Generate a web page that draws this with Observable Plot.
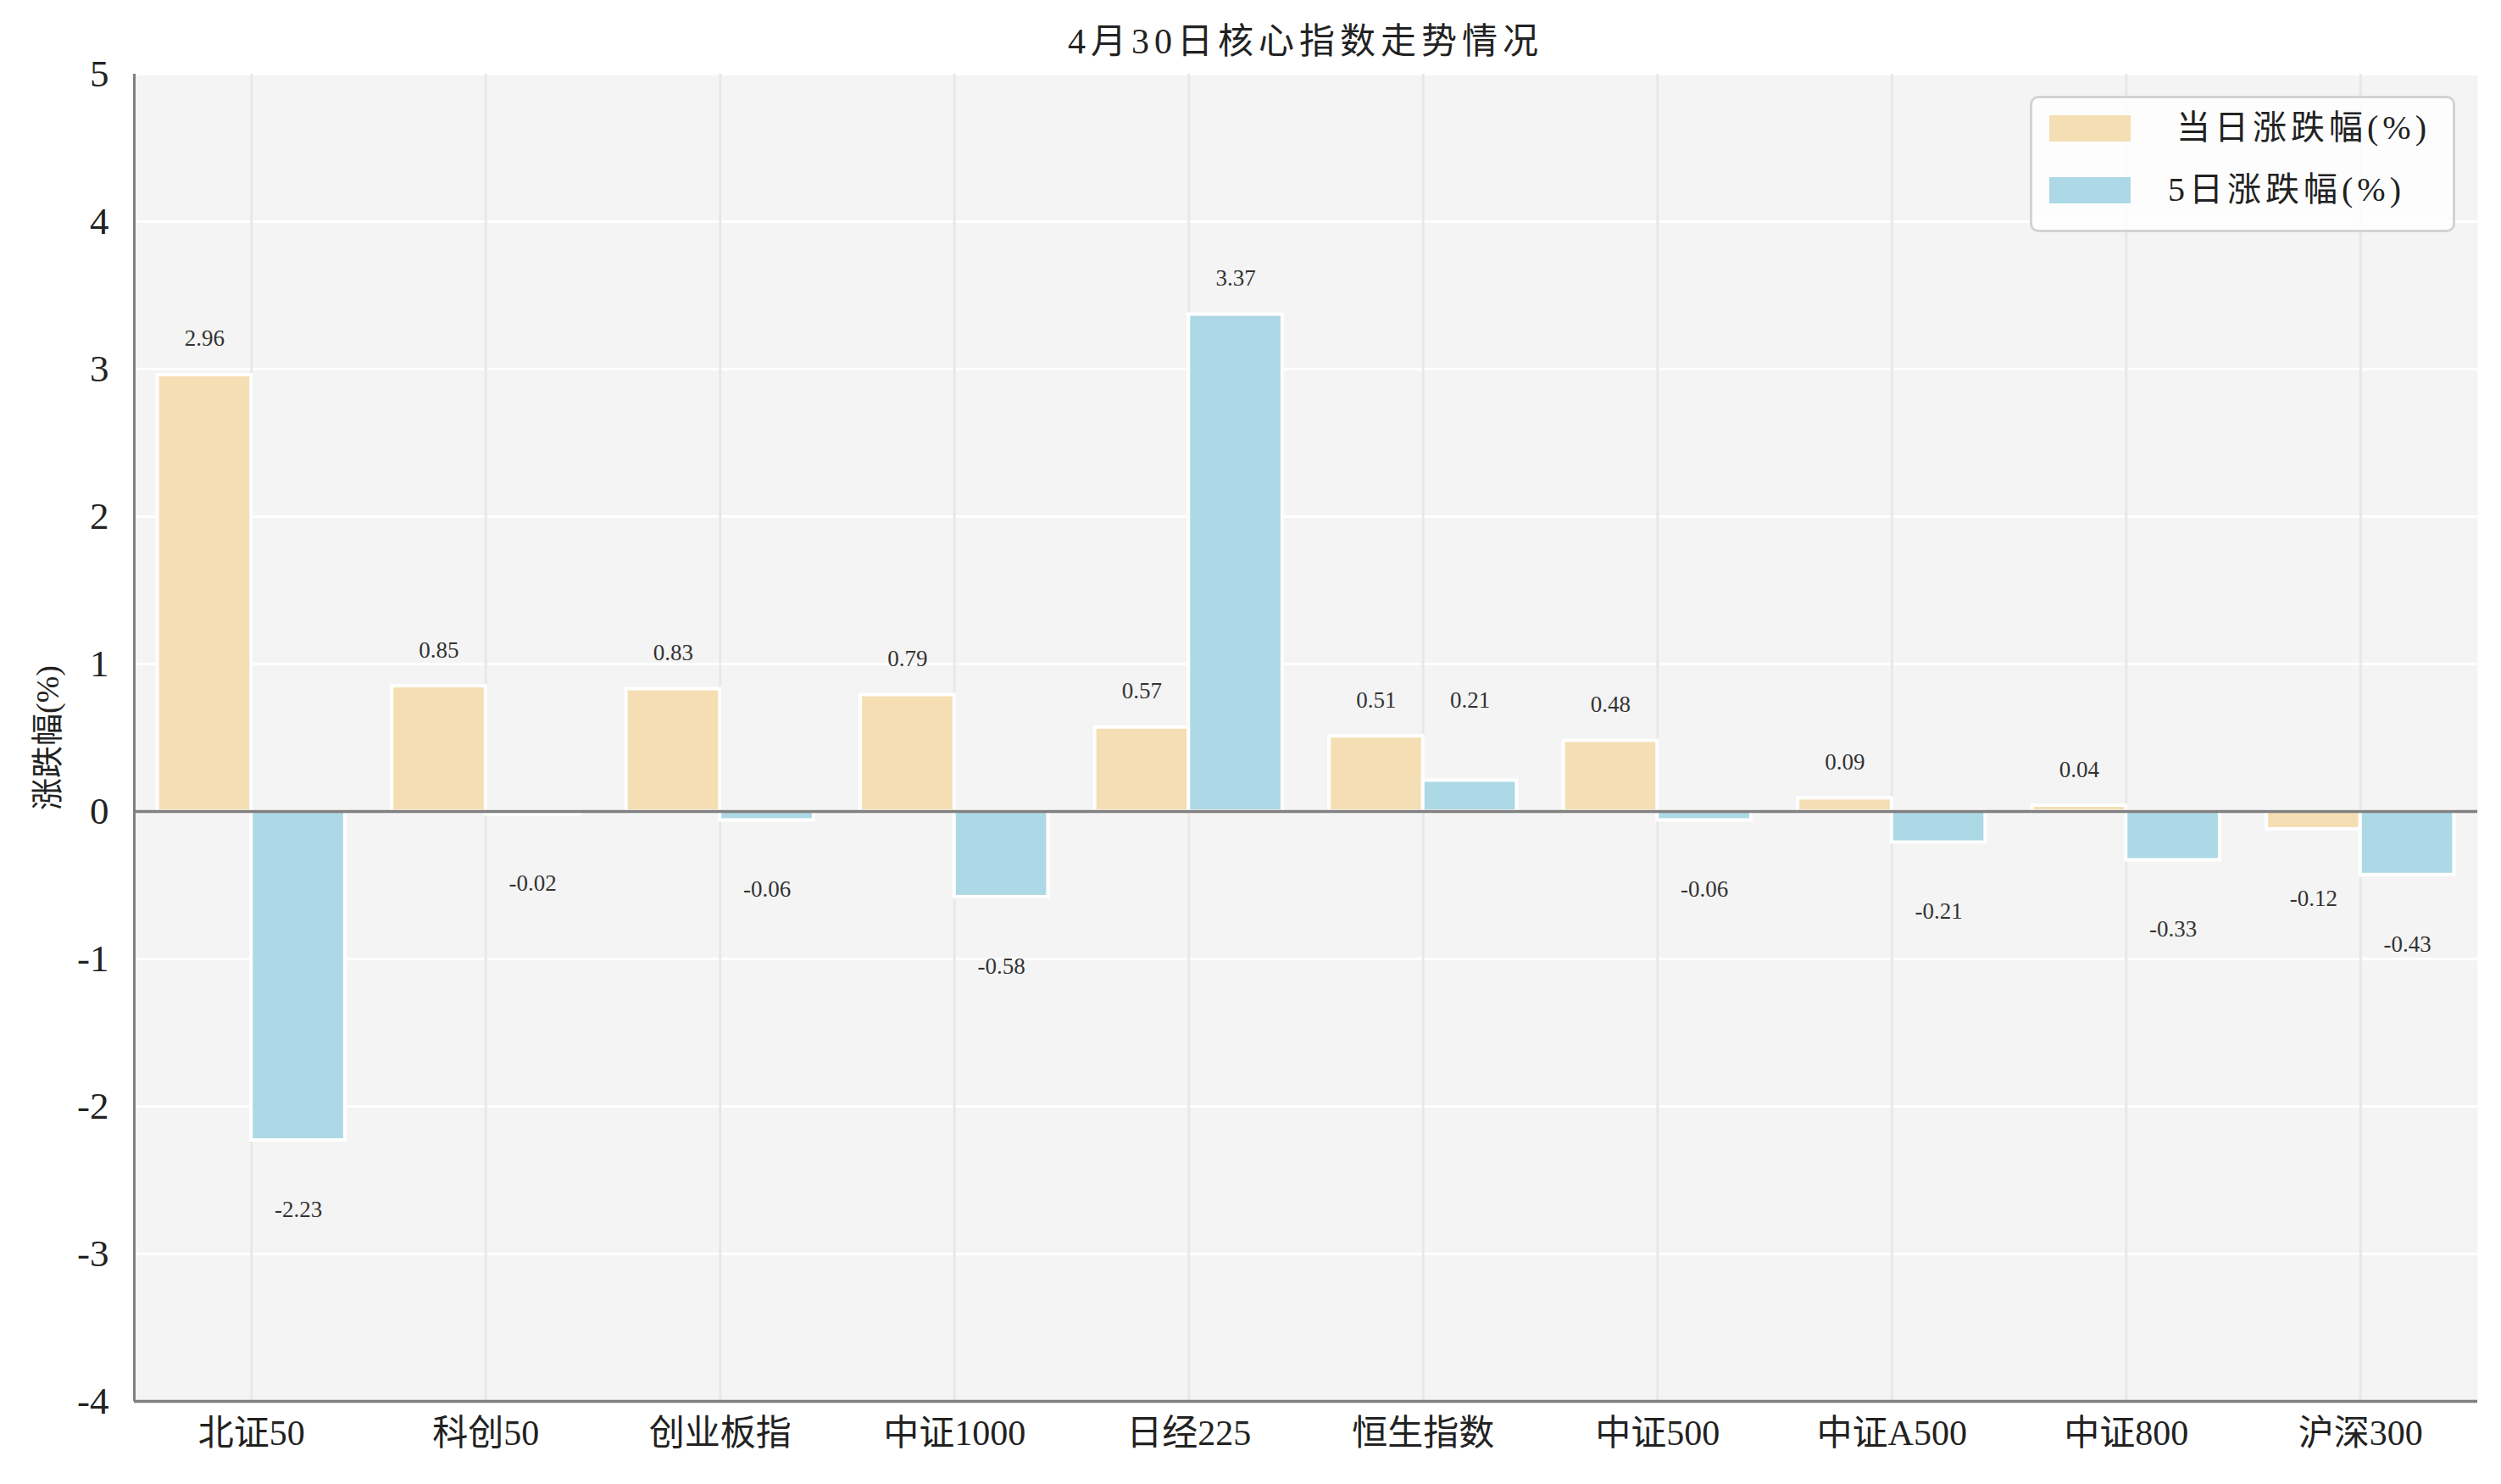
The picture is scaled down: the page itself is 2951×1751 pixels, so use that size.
<!DOCTYPE html>
<html>
<head>
<meta charset="utf-8">
<script src="https://cdn.jsdelivr.net/npm/d3@7"></script>
<script src="https://cdn.jsdelivr.net/npm/@observablehq/plot@0.6"></script>
<style>
  html, body { margin: 0; padding: 0; background: #ffffff; }
  body { font-family: "Liberation Serif", "Noto Sans CJK SC", serif; color: #222; }
  #wrap { position: relative; width: 2951px; height: 1751px; }
  #title { position: absolute; left: 158px; width: 2765px; top: 22px; text-align: center; font-size: 42px; line-height: 54px; letter-spacing: 6px; color: #222; }
  #legend { position: absolute; left: 2395px; top: 113px; width: 496px; height: 155px; border: 3px solid #d3d3d3; border-radius: 10px; background: rgba(255,255,255,0.8); box-sizing: content-box; }
  .item { position: absolute; left: 20px; height: 40px; display: flex; align-items: center; }
  .sw { width: 96px; height: 31px; }
  .lab { font-size: 40px; line-height: 40px; color: #222; white-space: nowrap; letter-spacing: 5px; }
</style>
</head>
<body>
<div id="wrap">
  <div id="chart"></div>
  <div id="title"></div>
  <div id="legend"></div>
</div>
<script>
// ---- data ----
const title = "4月30日核心指数走势情况";
const yLabel = "涨跌幅(%)";
const categories = ["北证50", "科创50", "创业板指", "中证1000", "日经225", "恒生指数", "中证500", "中证A500", "中证800", "沪深300"];
const seriesNames = ["当日涨跌幅(%)", "5日涨跌幅(%)"];
const dailyChange = [2.96, 0.85, 0.83, 0.79, 0.57, 0.51, 0.48, 0.09, 0.04, -0.12];
const fiveDayChange = [-2.23, -0.02, -0.06, -0.58, 3.37, 0.21, -0.06, -0.21, -0.33, -0.43];
const yTicks = [-4, -3, -2, -1, 0, 1, 2, 3, 4, 5];
const colors = ["#F5DEB3", "#ADD8E6"];

// ---- layout/style ----
const W = 2951, H = 1751;
const BAR = 0.4;
const fontFamily = '"Liberation Serif", "Noto Sans CJK SC", serif';

const rows = [];
categories.forEach((c, i) => {
  rows.push({i, c, s: seriesNames[0], v: dailyChange[i], x1: i - BAR, x2: i,
             base: dailyChange[i]});
  rows.push({i, c, s: seriesNames[1], v: fiveDayChange[i], x1: i, x2: i + BAR,
             base: Math.max(dailyChange[i], fiveDayChange[i])});
});
const labelY = d => d.v >= 0 ? d.base + 0.245 : d.v - 0.47;

const plot = Plot.plot({
  width: W,
  height: H,
  marginLeft: 158,
  marginRight: 28,
  marginTop: 87,
  marginBottom: 98,
  style: {fontFamily, background: "#ffffff", color: "#222"},
  x: {type: "linear", domain: [-0.5, categories.length - 0.5]},
  y: {domain: [yTicks[0], yTicks[yTicks.length - 1]]},
  color: {domain: seriesNames, range: colors},
  marks: [
    Plot.frame({fill: "#f4f4f4", stroke: null}),
    Plot.gridY(yTicks, {stroke: "#ffffff", strokeOpacity: 1, strokeWidth: 3}),
    Plot.gridX(d3.range(categories.length), {stroke: "#e8e8e8", strokeOpacity: 1, strokeWidth: 3}),
    Plot.rectY(rows, {x1: "x1", x2: "x2", y1: 0, y2: "v", fill: "s", stroke: "#ffffff", strokeWidth: 4}),
    Plot.ruleY([0], {stroke: "#808080", strokeWidth: 3.5}),
    Plot.text(rows, {x: d => (d.x1 + d.x2) / 2, y: labelY, text: d => d.v.toFixed(2), fontSize: 27, fill: "#333"}),
    Plot.ruleX([-0.5], {stroke: "#808080", strokeWidth: 3}),
    Plot.ruleY([yTicks[0]], {stroke: "#808080", strokeWidth: 3.5}),
    Plot.axisY(yTicks, {tickSize: 0, tickPadding: 30, fontSize: 45, tickFormat: d => String(d), label: null, fill: "#222"}),
    Plot.axisY([], {tickSize: 0, label: yLabel, labelAnchor: "center", labelArrow: "none", labelOffset: 116, fontSize: 38, fill: "#222"}),
    Plot.axisX(d3.range(categories.length), {tickSize: 0, tickPadding: 22, fontSize: 42, tickFormat: i => categories[i], label: null, fill: "#222"})
  ]
});
document.getElementById("chart").appendChild(plot);

document.getElementById("title").textContent = title;
const legend = d3.select("#legend");
seriesNames.forEach((name, k) => {
  const it = legend.append("div").attr("class", "item").style("top", (15 + k * 73) + "px");
  it.append("div").attr("class", "sw").style("background", colors[k]).style("margin-right", (k === 0 ? 54 : 44) + "px");
  it.append("div").attr("class", "lab").text(name);
});
</script>
</body>
</html>
